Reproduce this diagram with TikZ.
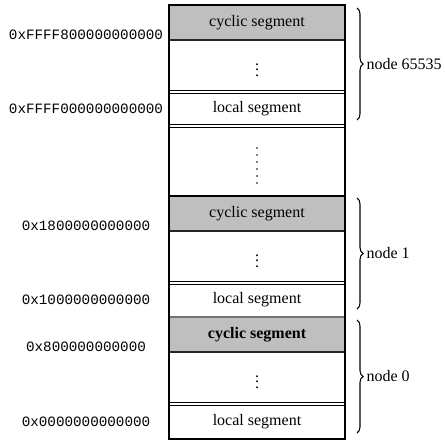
\documentclass[tikz,border=0pt]{standalone}
\usepackage{fontspec}
\setmainfont{Liberation Serif}
\setmonofont{Liberation Mono}
\usetikzlibrary{positioning, calc, decorations.pathreplacing}
\tikzstyle{seg} = [draw, rectangle, minimum width=132pt, inner sep=0pt, outer sep=0pt, line width=1pt, font=\fontsize{12}{14}\selectfont]
\tikzstyle{segcyc} = [seg, fill=black!25, minimum height=26.25pt]
\tikzstyle{segdots} = [seg, minimum height=39pt]
\tikzstyle{segloc} = [seg, minimum height=25.5pt]
\tikzstyle{seggap} = [seg, minimum height=52.5pt]
\tikzstyle{addr} = [font=\fontsize{10.7}{12}\ttfamily, inner sep=0pt]
\tikzstyle{dline} = [draw, double, double distance=1pt, line width=0.9pt]
\tikzstyle{bline} = [draw, line width=1.6pt, black!85]
\tikzstyle{brace} = [draw, line width=0.8pt, decorate, decoration={brace, amplitude=4.5pt}]
\tikzstyle{blabel} = [right, inner sep=0pt, xshift=6.75pt, font=\fontsize{12}{14}\selectfont]

\begin{document}
\begin{tikzpicture}
	\useasboundingbox (0,0) rectangle (333.75pt,-330.75pt);
	\node [segcyc] (c3) at (192.75pt,-16.875pt) {cyclic segment};
	\node [segdots, below=0pt of c3] (d3) {$\vdots$};
	\node [segloc, below=0pt of d3] (l3) {local segment};
	\node [seggap, below=0pt of l3] (gap) {};
	\node [segcyc, below=0pt of gap] (c1) {cyclic segment};
	\node [segdots, below=0pt of c1] (d1) {$\vdots$};
	\node [segloc, below=0pt of d1] (l1) {local segment};
	\node [segcyc, below=0pt of l1] (c0) {\textbf{cyclic segment}};
	\node [segdots, below=0pt of c0] (d0) {$\vdots$};
	\node [segloc, below=0pt of d0, minimum height=26.25pt] (l0) {local segment};
	
	\foreach \k in {0,...,5}
		\fill ($(gap.center)+(0,-3.4pt)+(0,13.125pt-\k*5.25pt)$) circle (0.7pt);
	
	\coordinate (ax) at (64.5pt,0);
	\node [addr, yshift=3.75pt] (a3) at (ax |- c3.south) {0xFFFF800000000000};
	\node [addr] (b3) at (ax |- l3.center) {0xFFFF000000000000};
	\node [addr, yshift=3.75pt] (a1) at (ax |- c1.south) {0x1800000000000};
	\node [addr] (b1) at (ax |- l1.center) {0x1000000000000};
	\node [addr, yshift=3.75pt] (a0) at (ax |- c0.south) {0x800000000000};
	\node [addr] (b0) at (ax |- l0.center) {0x0000000000000};
	
	\path [bline] (c3.south west) -- (c3.south east);
	\path [bline] (c1.south west) -- (c1.south east);
	\path [bline] (c0.south west) -- (c0.south east);
	\path [dline] (d3.south west) -- (d3.south east);
	\path [dline] (l3.south west) -- (l3.south east);
	\path [dline] (d1.south west) -- (d1.south east);
	\path [bline, black!55] (l1.south west) -- (l1.south east);
	\path [dline] (d0.south west) -- (d0.south east);
	% outer frame again over the double lines
	\draw [line width=1pt] (c3.north west) rectangle (l0.south east);
	
	\path [brace] ([xshift=9pt, yshift=-2.25pt]c3.north east) -- ([xshift=9pt, yshift=4.5pt]l3.south east) node [blabel, midway] (n3) {node 65535};
	\path [brace] ([xshift=9pt, yshift=-1.5pt]c1.north east) -- ([xshift=9pt, yshift=6pt]l1.south east) node [blabel, midway] (n1) {node 1};
	\path [brace] ([xshift=9pt, yshift=-2.25pt]c0.north east) -- ([xshift=9pt, yshift=4.5pt]l0.south east) node [blabel, midway] (n0) {node 0};
\end{tikzpicture}
\end{document}
